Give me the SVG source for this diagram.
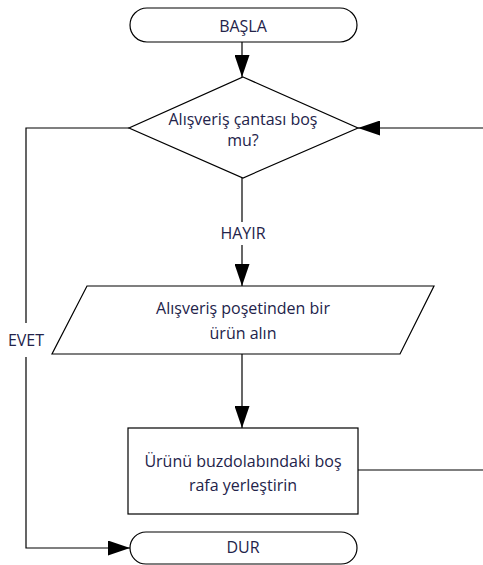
<svg xmlns="http://www.w3.org/2000/svg" width="483" height="565" viewBox="0 0 483 565">
<defs>
<marker id="arr" viewBox="0 0 22 15" refX="22" refY="7.5" markerWidth="22" markerHeight="15" orient="auto" markerUnits="userSpaceOnUse">
<path d="M0,0 L22,7.5 L0,15 Z" fill="#000"/>
</marker>
</defs>
<style>
.s{fill:#fff;stroke:#000;stroke-width:1.2}
.c{fill:none;stroke:#000;stroke-width:1.2}
.t{font-family:"Open Sans","Liberation Sans",Arial,sans-serif;font-size:16px;fill:#23234a;text-anchor:middle}
</style>
<rect width="483" height="565" fill="#fff"/>
<g id="connectors">
<line class="c" x1="242" y1="42" x2="242" y2="77" marker-end="url(#arr)"/>
<line class="c" x1="483" y1="128" x2="358" y2="128" marker-end="url(#arr)"/>
<polyline class="c" points="129,128 26,128 26,323"/>
<polyline class="c" points="26,357 26,548 130,548" marker-end="url(#arr)"/>
<line class="c" x1="242" y1="178" x2="242" y2="222"/>
<line class="c" x1="242" y1="245" x2="242" y2="286" marker-end="url(#arr)"/>
<line class="c" x1="242" y1="354" x2="242" y2="428" marker-end="url(#arr)"/>
<line class="c" x1="358" y1="470" x2="483" y2="470"/>
<text class="t" x="243" y="239">HAYIR</text>
<text class="t" x="26" y="346">EVET</text>
</g>
<g id="start">
<rect class="s" x="130" y="8" width="227" height="34" rx="17"/>
<text class="t" x="243" y="32">BAŞLA</text>
</g>
<g id="decision">
<polygon class="s" points="243,77 358,128 243,178 129,128"/>
<text class="t" x="243" y="125">Alışveriş çantası boş</text>
<text class="t" x="243" y="146">mu?</text>
</g>
<g id="input">
<polygon class="s" points="87,286 434,286 400,354 52,354"/>
<text class="t" x="243" y="314">Alışveriş poşetinden bir</text>
<text class="t" x="243" y="339">ürün alın</text>
</g>
<g id="process">
<rect class="s" x="128" y="428" width="230" height="86"/>
<text class="t" x="243" y="467">Ürünü buzdolabındaki boş</text>
<text class="t" x="243" y="491">rafa yerleştirin</text>
</g>
<g id="end">
<rect class="s" x="130" y="532" width="227" height="32" rx="16"/>
<text class="t" x="243" y="553">DUR</text>
</g>
</svg>
